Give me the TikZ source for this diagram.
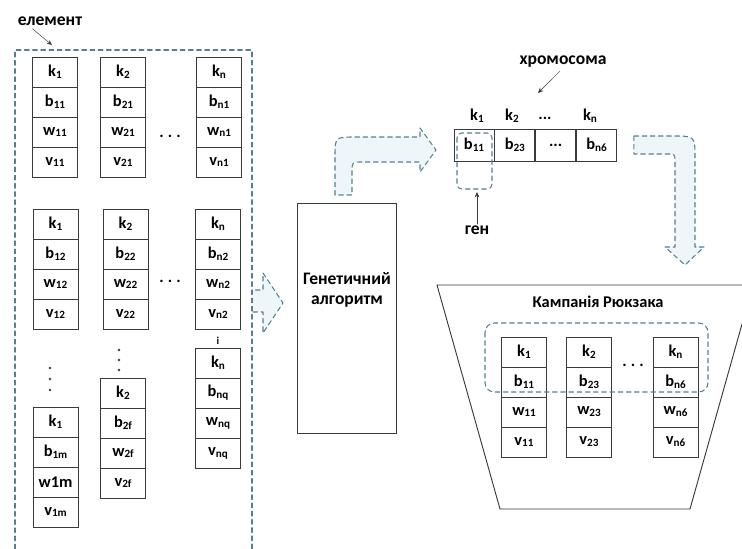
\documentclass[tikz,border=0pt]{standalone}
\usepackage{fontspec}
\setmainfont{Carlito}
\usetikzlibrary{arrows.meta,calc}
\tikzset{>={Stealth[length=1.6mm,width=1.4mm]}}
\definecolor{GeneTeal}{HTML}{56808E}
\definecolor{GeneHalo}{HTML}{EEF6F9}
\definecolor{CellLine}{HTML}{3A3A3A}
\tikzset{
  cell/.style={draw=CellLine, line width=0.7pt, minimum width=13.5mm, minimum height=9mm,
      inner sep=0pt, font=\bfseries\fontsize{14}{15}\selectfont},
  chromcell/.style={cell, minimum width=12mm, minimum height=9.6mm},
  tealdash/.style={GeneTeal, line width=0.9pt, dash pattern=on 4pt off 3pt},
  blockarrow/.style={tealdash, fill=GeneHalo, line join=round},
  titletext/.style={font=\bfseries\fontsize{15}{17}\selectfont, inner sep=1pt},
  dotrow/.style={font=\bfseries\fontsize{14}{15}\selectfont, inner sep=0pt}
}
\newcommand{\ix}[2]{#1{\fontsize{9.5}{10}\selectfont\raisebox{-0.35ex}{#2}}}
% one column of an item: name, x, top y, labels
\newcommand{\itemcol}[4]{%
  \foreach \lab [count=\i] in {#4}{%
    \node[cell] (#1-\i) at (#2,{#3+(\i-0.5)*30}) {\lab};
  }%
}

\begin{document}
\begin{tikzpicture}[x=0.3mm, y=-0.3mm, line cap=round]
  \useasboundingbox (0,0) rectangle (742,549);

  % --- item set
  \draw[tealdash] (15,549) -- (15,50) -- (252,50) -- (252,549);
  \coordinate (elemtop) at (52,45);
  \node[titletext] (elem) at (50,21) {елемент};
  \path (elem.south west) ++(16,2) coordinate (elemfrom);
  \draw[->, CellLine, thin] (elemfrom) -- (elemtop);

  \itemcol{a1}{55}{57}{\ix{k}{1}, \ix{b}{11}, \ix{w}{11}, \ix{v}{11}}
  \itemcol{a2}{123}{57}{\ix{k}{2}, \ix{b}{21}, \ix{w}{21}, \ix{v}{21}}
  \itemcol{an}{219}{57}{\ix{k}{n}, \ix{b}{n1}, \ix{w}{n1}, \ix{v}{n1}}
  \node[dotrow] (dotsa) at (170,136) {.\hspace{3.5pt}.\hspace{3.5pt}.};

  \itemcol{b1}{55.5}{209}{\ix{k}{1}, \ix{b}{12}, \ix{w}{12}, \ix{v}{12}}
  \itemcol{b2}{125.5}{209}{\ix{k}{2}, \ix{b}{22}, \ix{w}{22}, \ix{v}{22}}
  \itemcol{bn}{218}{209}{\ix{k}{n}, \ix{b}{n2}, \ix{w}{n2}, \ix{v}{n2}}
  \node[dotrow] (dotsb) at (170,281) {.\hspace{3.5pt}.\hspace{3.5pt}.};

  \foreach \y in {368,379,390} \fill[CellLine] (50,\y) circle (1.2pt);
  \foreach \y in {350,360,370} \fill[CellLine] (119,\y) circle (1.2pt);
  \node[font=\bfseries\fontsize{9}{9}\selectfont, inner sep=0pt] (idots) at (218,341) {i};

  \itemcol{c1}{55.5}{407}{\ix{k}{1}, \ix{b}{1m}, w1m, \ix{v}{1m}}
  \itemcol{c2}{123}{378}{\ix{k}{2}, \ix{b}{2f}, \ix{w}{2f}, \ix{v}{2f}}
  \itemcol{cn}{218}{348}{\ix{k}{n}, \ix{b}{nq}, \ix{w}{nq}, \ix{v}{nq}}

  % --- arrow into the algorithm
  \coordinate (inA) at (253,290);
  \coordinate (inB) at (253,312);
  \draw[blockarrow] (inB) -- (263,312) -- (263,333) -- (283,303) -- (263,273) -- (263,290) -- (inA);

  % --- genetic algorithm
  \node[draw=CellLine, line width=0.7pt, minimum width=29.7mm, minimum height=69mm,
        anchor=north] (ga) at (346.5,203) {};
  \node[titletext, align=center] (gatext) at (347,290) {Генетичний\\алгоритм};

  \coordinate (upL) at ($(ga.north)+(-11.5,-8)$);
  \coordinate (upR) at ($(ga.north)+(5.5,-8)$);
  \draw[blockarrow] (upL) -- (335,157) .. controls (335,137) .. (355,137) -- (420,137)
     -- (420,128) -- (436,150) -- (420,172) -- (420,162) -- (362,162)
     .. controls (352,162) .. (352,172) -- (upR) -- cycle;

  % --- chromosome
  \node[titletext] (chromlab) at (563,62) {хромосома};
  \coordinate (chromto) at (538,93);
  \path (chromlab.south) ++(-3,2) coordinate (chromfrom);
  \draw[->, CellLine, thin] (chromfrom) -- (chromto);

  \node[chromcell] (ch1) at (474,145) {\ix{b}{11}};
  \node[chromcell, anchor=west] (ch2) at (ch1.east) {\ix{b}{23}};
  \node[chromcell, anchor=west] (ch3) at (ch2.east) {...};
  \node[chromcell, anchor=west] (ch4) at (ch3.east) {\ix{b}{n6}};
  \node[dotrow] (hk1) at (477,116) {\ix{k}{1}};
  \node[dotrow] (hk2) at (512,116) {\ix{k}{2}};
  \node[dotrow] (hk3) at (545,118) {...};
  \node[dotrow] (hkn) at (590,116) {\ix{k}{n}};

  \draw[tealdash, rounded corners=4pt] (457,133) rectangle (492,189);
  \coordinate (genebot) at (477,192);
  \node[titletext] (gen) at (477,230) {ген};
  \draw[->, CellLine, thin] (gen.north) -- (genebot);

  % --- arrow down to the campaign
  \coordinate (dnA) at ($(ch4.east)+(17,-9)$);
  \coordinate (dnB) at ($(ch4.east)+(17,9)$);
  \draw[blockarrow] (dnA) -- (673,136) .. controls (695,136) .. (695,158) -- (695,247)
     -- (704,247) -- (685,265) -- (665,247) -- (675,247) -- (675,162)
     .. controls (675,154) .. (667,154) -- (dnB) -- cycle;

  % --- knapsack campaign
  \draw[CellLine, line width=0.8pt] (437,285) -- (753,285) -- (690,509) -- (500,509) -- cycle;
  \node[titletext, font=\bfseries\fontsize{14}{16}\selectfont] (camp) at (598,302) {Кампанія Рюкзака};
  \itemcol{d1}{524}{337}{\ix{k}{1}, \ix{b}{11}, \ix{w}{11}, \ix{v}{11}}
  \itemcol{d2}{589}{337}{\ix{k}{2}, \ix{b}{23}, \ix{w}{23}, \ix{v}{23}}
  \itemcol{dn}{675.5}{337}{\ix{k}{n}, \ix{b}{n6}, \ix{w}{n6}, \ix{v}{n6}}
  \node[dotrow] (dotsd) at (633,365) {.\hspace{3.5pt}.\hspace{3.5pt}.};
  \draw[tealdash, rounded corners=8pt] (485,323) rectangle (708,392);
\end{tikzpicture}
\end{document}
